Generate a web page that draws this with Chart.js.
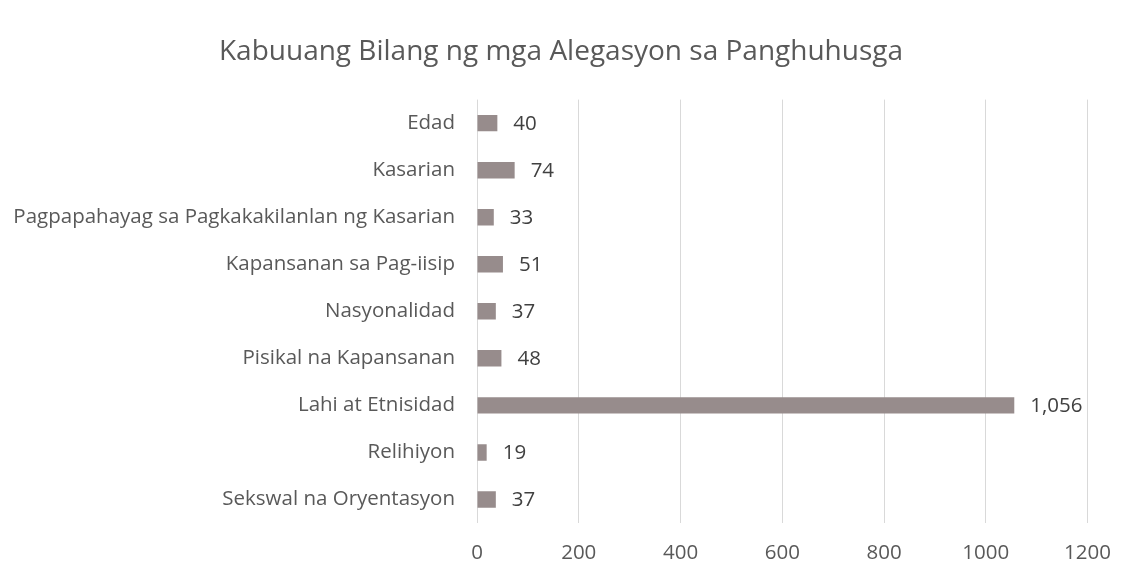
<!DOCTYPE html>
<html><head><meta charset="utf-8">
<script src="https://cdn.jsdelivr.net/npm/chart.js@4/dist/chart.umd.min.js"></script>
<style>html,body{margin:0;padding:0;background:#fff}#wrap{width:1129px;height:580px}</style>
</head><body><div id="wrap"><canvas id="c" width="1129" height="580"></canvas></div>
<script>
const categories = ["Edad","Kasarian","Pagpapahayag sa Pagkakakilanlan ng Kasarian","Kapansanan sa Pag-iisip","Nasyonalidad","Pisikal na Kapansanan","Lahi at Etnisidad","Relihiyon","Sekswal na Oryentasyon"];
const values = [40,74,33,51,37,48,1056,19,37];
const valueLabels = ["40","74","33","51","37","48","1,056","19","37"];
const titleText = "Kabuuang Bilang ng mga Alegasyon sa Panghuhusga";
const FONT = "'Open Sans', sans-serif";

const labelPlugin = {
  id: 'valueLabels',
  afterDatasetsDraw(chart) {
    const ctx = chart.ctx;
    const meta = chart.getDatasetMeta(0);
    ctx.save();
    ctx.font = "20.5px " + FONT;
    ctx.fillStyle = "#404040";
    ctx.textAlign = "left";
    ctx.textBaseline = "middle";
    meta.data.forEach((bar, i) => {
      ctx.fillText(valueLabels[i], bar.x + 16, bar.y + 1);
    });
    ctx.restore();
  }
};

new Chart(document.getElementById('c'), {
  type: 'bar',
  data: {
    labels: categories,
    datasets: [{
      data: values,
      backgroundColor: '#978c8c',
      barPercentage: 0.5,
      categoryPercentage: 0.7
    }]
  },
  options: {
    indexAxis: 'y',
    responsive: false,
    animation: false,
    layout: { padding: { left: 0, right: 7, top: 0, bottom: 0 } },
    plugins: {
      legend: { display: false },
      tooltip: { enabled: false },
      title: {
        display: true,
        text: titleText,
        color: '#595959',
        font: { family: FONT, size: 28, weight: 'normal' },
        padding: { top: 35, bottom: 31 }
      }
    },
    scales: {
      x: {
        min: 0, max: 1200,
        ticks: { stepSize: 200, color: '#595959', font: { family: FONT, size: 20.5 }, padding: 18,
                 callback: (v) => String(v) },
        grid: { color: '#d9d9d9', drawTicks: false },
        border: { display: false },
        afterFit(s) { s.height = 57; }
      },
      y: {
        ticks: { color: '#595959', font: { family: FONT, size: 20.5 }, padding: 22 },
        grid: { display: false, drawTicks: false },
        border: { display: false },
        afterFit(s) { s.width = 477; }
      },
      yPad: {
        type: 'linear',
        position: 'right',
        min: 0, max: 1,
        ticks: { display: false },
        grid: { display: false, drawTicks: false },
        border: { display: false },
        afterFit(s) { s.width = 31; }
      }
    }
  },
  plugins: [labelPlugin]
});
</script>
</body></html>
